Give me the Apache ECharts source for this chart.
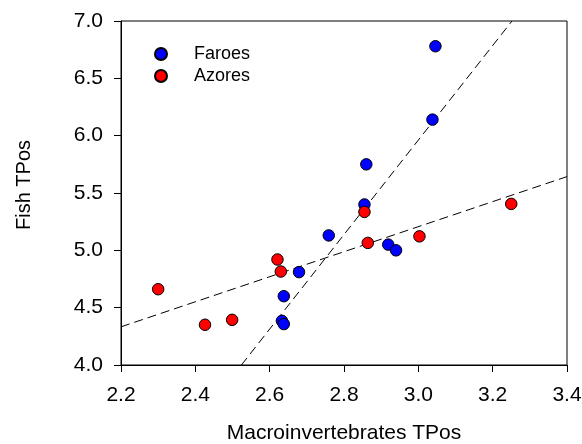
<!DOCTYPE html>
<html>
<head>
<meta charset="utf-8">
<script src="https://cdn.jsdelivr.net/npm/echarts@6/dist/echarts.min.js"></script>
<style>
  html, body { margin: 0; padding: 0; background: #fff; }
  #chart { width: 582px; height: 444px; }
</style>
</head>
<body>
<div id="chart"></div>
<script>
// values: [macroinvertebrate TPos, fish TPos]
var faroes = [
	[3.046, 6.78], [3.038, 6.14], [2.860, 5.75], [2.855, 5.40],
	[2.759, 5.13], [2.919, 5.05], [2.940, 5.00], [2.679, 4.81],
	[2.638, 4.60], [2.633, 4.385], [2.638, 4.357]
];
var azores = [
	[2.855, 5.335], [2.864, 5.065], [3.003, 5.122], [3.250, 5.405],
	[2.621, 4.920], [2.630, 4.815], [2.300, 4.661], [2.426, 4.351],
	[2.499, 4.394]
];
// fitted lines, end points as seen
var faroesFit = [[2.524, 4.0], [3.252, 7.0]];
var azoresFit = [[2.2, 4.333], [3.4, 5.643]];

var xTicks = [2.2, 3.4, 0.2];   // min, max, step
var yTicks = [4.0, 7.0, 0.5];

var font = 'Liberation Sans, Arial, sans-serif';
var myChart = echarts.init(document.getElementById('chart'));

function dots(name, data, color) {
	return {
		name: name,
		type: 'scatter',
		data: data,
		symbol: 'circle',
		symbolSize: 11.5,
		itemStyle: { color: color, borderColor: '#000', borderWidth: 1, opacity: 1 },
		z: 3
	};
}
function fit(data) {
	return {
		type: 'line',
		data: data,
		symbol: 'none',
		silent: true,
		lineStyle: { color: '#000', width: 1, type: [9, 5] },
		z: 2
	};
}

var option = {
	animation: false,
	backgroundColor: '#fff',
	grid: {
		left: 121, right: 15, top: 21, bottom: 79,
		containLabel: false,
		outerBoundsMode: 'none',
		show: true, borderColor: '#000', borderWidth: 1
	},
	legend: {
		orient: 'vertical',
		left: 149,
		top: 40,
		itemWidth: 56,
		itemHeight: 12,
		itemGap: 4,
		icon: 'circle',
		data: ['Faroes', 'Azores'],
		textStyle: { fontFamily: font, fontSize: 18, color: '#000' }
	},
	xAxis: {
		type: 'value',
		min: xTicks[0], max: xTicks[1], interval: xTicks[2],
		name: 'Macroinvertebrates TPos',
		nameLocation: 'middle',
		nameGap: 58,
		nameTextStyle: { fontFamily: font, fontSize: 21, color: '#000' },
		axisLine: { show: true, lineStyle: { color: '#000', width: 1 } },
		axisTick: { show: true, inside: false, length: 7, lineStyle: { color: '#000' } },
		axisLabel: {
			margin: 20, fontFamily: font, fontSize: 21, color: '#000',
			formatter: function(v) { return v.toFixed(1); }
		},
		splitLine: { show: false }
	},
	yAxis: {
		type: 'value',
		min: yTicks[0], max: yTicks[1], interval: yTicks[2],
		name: 'Fish TPos',
		nameLocation: 'middle',
		nameGap: 87,
		nameTextStyle: { fontFamily: font, fontSize: 20, color: '#000', padding: [0, 0, 0, 16] },
		axisLine: { show: true, lineStyle: { color: '#000', width: 1 } },
		axisTick: { show: true, inside: false, length: 7, lineStyle: { color: '#000' } },
		axisLabel: {
			margin: 18, fontFamily: font, fontSize: 21, color: '#000',
			formatter: function(v) { return v.toFixed(1); }
		},
		splitLine: { show: false }
	},
	series: [
		fit(faroesFit),
		fit(azoresFit),
		dots('Faroes', faroes, '#0000ff'),
		dots('Azores', azores, '#ff0000')
	]
};
myChart.setOption(option);
</script>
</body>
</html>
